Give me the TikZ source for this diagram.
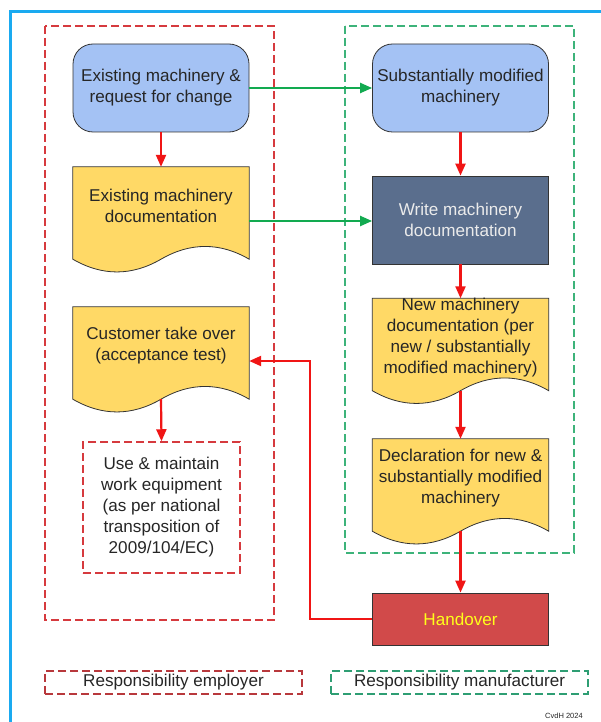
\documentclass[tikz,border=0pt]{standalone}
\usepackage{fontspec}
\setmainfont{Liberation Sans}
\usetikzlibrary{arrows.meta,calc,backgrounds}

\definecolor{frameblue}{HTML}{1AAAF0}
\definecolor{empred}{HTML}{D63A3E}
\definecolor{mangreen}{HTML}{3DB37A}
\definecolor{legred}{HTML}{B8383C}
\definecolor{leggreen}{HTML}{2E9E73}
\definecolor{arrred}{HTML}{F01515}
\definecolor{arrgreen}{HTML}{12AA50}
\definecolor{nodeblue}{HTML}{A4C2F4}
\definecolor{docyellow}{HTML}{FFD966}
\definecolor{slate}{HTML}{5A6E8D}
\definecolor{handred}{HTML}{D14A4A}
\definecolor{handyellow}{HTML}{FFFF1A}
\definecolor{edgegray}{HTML}{333333}

\newcommand\docshape[1]{%
  \path[draw=edgegray, line width=0.8pt, fill=docyellow]
    (#1.north west) -- (#1.north east) -- ($(#1.south east)+(0,-16)$)
    .. controls +(-29.3,-17) and +(29.3,-17) .. ($(#1.south)+(0,-16)$)
    .. controls +(-29.3,17) and +(29.3,17) .. ($(#1.south west)+(0,-16)$) -- cycle;}

\begin{document}
\begin{tikzpicture}[x=1pt,y=-1pt,
  font=\fontsize{17.1}{21}\selectfont,
  base/.style={inner sep=0pt, align=center, text=black!85},
  term/.style={base, draw=edgegray, line width=0.8pt, fill=nodeblue, rounded corners=20pt, minimum width=176pt, minimum height=88pt},
  proc/.style={base, draw=edgegray, line width=0.8pt, fill=slate, text=white!92!black, minimum width=176pt, minimum height=88pt},
  docnode/.style={base, minimum width=176pt, minimum height=108pt},
  doctext/.style={base, yshift=15pt},
  usebox/.style={base, draw=empred, line width=1.5pt, dash pattern=on 8pt off 4pt, fill=white, minimum width=157pt, minimum height=131pt},
  handbox/.style={base, draw=edgegray, line width=0.8pt, fill=handred, text=handyellow, minimum width=176pt, minimum height=52pt},
  legbox/.style={base, line width=1.5pt, dash pattern=on 8pt off 4pt, minimum width=257pt, minimum height=23pt},
  redarrow/.style={draw=arrred, line width=2.2pt, -{Triangle[length=12pt,width=10pt]}},
  greenarrow/.style={draw=arrgreen, line width=2.2pt, -{Triangle[length=12pt,width=10pt]}},
  zone/.style={line width=1.5pt, dash pattern=on 8pt off 4pt}
]
\useasboundingbox (0,0) rectangle (600,722);

% nodes
\node[term] (n1) at (161,88) {Existing machinery \&\\request for change};
\node[term] (n2) at (460.5,88) {Substantially modified\\machinery};
\node[docnode, label={[doctext]center:Existing machinery\\documentation}] (n3) at (161,221) {};
\node[proc] (n4) at (460.5,220) {Write machinery\\documentation};
\node[docnode, label={[doctext]center:Customer take over\\(acceptance test)}] (n5) at (161,361) {};
\node[usebox] (n6) at (161.5,507.5) {Use \& maintain\\work equipment\\(as per national\\transposition of\\2009/104/EC)};
\node[docnode, label={[doctext]center:New machinery\\documentation (per\\new / substantially\\modified machinery)}] (n7) at (460.5,352.5) {};
\node[docnode, label={[doctext]center:Declaration for new \&\\substantially modified\\machinery}] (n8) at (460.5,493) {};
\node[handbox] (n9) at (460.5,619) {Handover};

\node[legbox, draw=legred] (l1) at (173.5,682.5) {Responsibility employer};
\node[legbox, draw=leggreen] (l2) at (459.5,682.5) {Responsibility manufacturer};
\node[base, font=\fontsize{7.5}{9}\selectfont] (cr) at (564,716) {CvdH 2024};

\begin{scope}[on background layer]
  \fill[white] (0,0) rectangle (600,722);
  \draw[frameblue, line width=3pt] (10.5,740) -- (10.5,11.5) -- (620,11.5);
  \draw[zone, draw=empred] (45,26) rectangle (274,620);
  \draw[zone, draw=mangreen] (345,26) rectangle (574,553);
  \docshape{n3}
  \docshape{n5}
  \docshape{n7}
  \docshape{n8}
\end{scope}

% connectors
\draw[redarrow] (n1.south) -- (n3.north);
\draw[greenarrow] (n1.east) -- (n2.west);
\draw[redarrow] (n2.south) -- (n4.north);
\draw[greenarrow] (n3.east) -- (n3.east -| n4.west);
\draw[redarrow] (n4.south) -- (n7.north);
\draw[redarrow] ($(n7.south)+(0,-16)$) -- (n8.north);
\draw[redarrow] ($(n8.south)+(0,-16)$) -- (n9.north);
\draw[redarrow] (n9.west) -- ++(-62,0) |- (n5.east);
\draw[redarrow] ($(n5.south)+(0,-16)$) -- (n6.north);
\end{tikzpicture}
\end{document}
